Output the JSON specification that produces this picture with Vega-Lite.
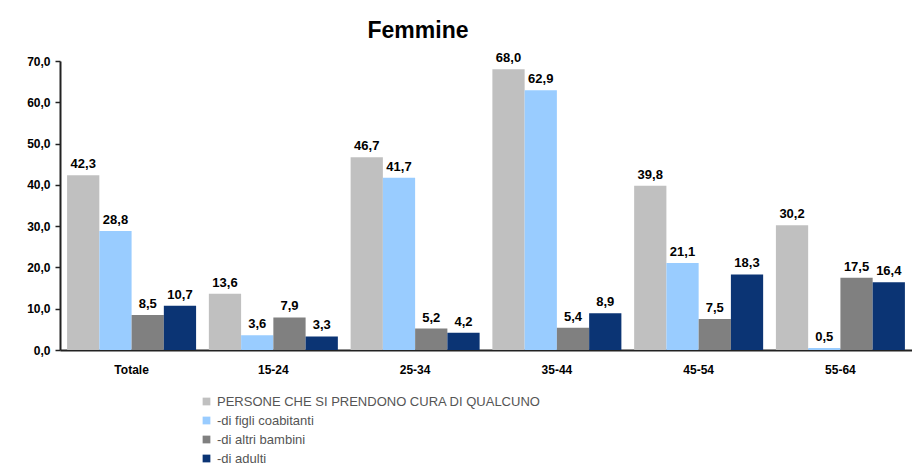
{
  "$schema": "https://vega.github.io/schema/vega-lite/v6.json",
  "width": 852,
  "height": 289,
  "autosize": "none",
  "padding": {"left": 60, "top": 61, "right": 0, "bottom": 125},
  "background": "white",
  "config": {
    "locale": {"number": {"decimal": ",", "thousands": ".", "grouping": [3], "currency": ["€", ""]}},
    "view": {"stroke": null},
    "font": "Liberation Sans"
  },
  "title": {
    "text": "Femmine",
    "fontSize": 23,
    "fontWeight": "bold",
    "font": "Liberation Sans",
    "color": "#000",
    "dx": -68,
    "offset": 9
  },
  "data": {
    "values": [
      {"eta": "Totale", "serie": "PERSONE CHE SI PRENDONO CURA DI QUALCUNO", "v": 42.3},
      {"eta": "Totale", "serie": "-di figli coabitanti", "v": 28.8},
      {"eta": "Totale", "serie": "-di altri bambini", "v": 8.5},
      {"eta": "Totale", "serie": "-di adulti", "v": 10.7},
      {"eta": "15-24", "serie": "PERSONE CHE SI PRENDONO CURA DI QUALCUNO", "v": 13.6},
      {"eta": "15-24", "serie": "-di figli coabitanti", "v": 3.6},
      {"eta": "15-24", "serie": "-di altri bambini", "v": 7.9},
      {"eta": "15-24", "serie": "-di adulti", "v": 3.3},
      {"eta": "25-34", "serie": "PERSONE CHE SI PRENDONO CURA DI QUALCUNO", "v": 46.7},
      {"eta": "25-34", "serie": "-di figli coabitanti", "v": 41.7},
      {"eta": "25-34", "serie": "-di altri bambini", "v": 5.2},
      {"eta": "25-34", "serie": "-di adulti", "v": 4.2},
      {"eta": "35-44", "serie": "PERSONE CHE SI PRENDONO CURA DI QUALCUNO", "v": 68.0},
      {"eta": "35-44", "serie": "-di figli coabitanti", "v": 62.9},
      {"eta": "35-44", "serie": "-di altri bambini", "v": 5.4},
      {"eta": "35-44", "serie": "-di adulti", "v": 8.9},
      {"eta": "45-54", "serie": "PERSONE CHE SI PRENDONO CURA DI QUALCUNO", "v": 39.8},
      {"eta": "45-54", "serie": "-di figli coabitanti", "v": 21.1},
      {"eta": "45-54", "serie": "-di altri bambini", "v": 7.5},
      {"eta": "45-54", "serie": "-di adulti", "v": 18.3},
      {"eta": "55-64", "serie": "PERSONE CHE SI PRENDONO CURA DI QUALCUNO", "v": 30.2},
      {"eta": "55-64", "serie": "-di figli coabitanti", "v": 0.5},
      {"eta": "55-64", "serie": "-di altri bambini", "v": 17.5},
      {"eta": "55-64", "serie": "-di adulti", "v": 16.4}
    ]
  },
  "encoding": {
    "x": {
      "field": "eta", "type": "nominal", "sort": null,
      "scale": {"paddingInner": 0.09, "paddingOuter": 0.05},
      "axis": {
        "title": null, "labelAngle": 0, "ticks": false, "domainColor": "#222", "domainWidth": 2,
        "labelFont": "Liberation Sans", "labelFontWeight": "bold", "labelFontSize": 12,
        "labelColor": "#000", "labelPadding": 14
      }
    },
    "xOffset": {
      "field": "serie", "type": "nominal", "sort": null,
      "scale": {"domain": ["PERSONE CHE SI PRENDONO CURA DI QUALCUNO", "-di figli coabitanti", "-di altri bambini", "-di adulti"], "paddingInner": 0}
    },
    "y": {
      "field": "v", "type": "quantitative",
      "scale": {"domain": [0, 70], "nice": false},
      "axis": {
        "title": null, "values": [0, 10, 20, 30, 40, 50, 60, 70], "format": ".1f", "grid": false,
        "domainColor": "#222", "domainWidth": 2, "tickColor": "#222", "tickSize": 5, "tickWidth": 1.5,
        "labelFont": "Liberation Sans", "labelFontWeight": "bold", "labelFontSize": 12,
        "labelColor": "#000", "labelPadding": 5
      }
    }
  },
  "layer": [
    {
      "mark": {"type": "bar"},
      "encoding": {
        "color": {
          "field": "serie", "type": "nominal", "sort": null,
          "scale": {
            "domain": ["PERSONE CHE SI PRENDONO CURA DI QUALCUNO", "-di figli coabitanti", "-di altri bambini", "-di adulti"],
            "range": ["#c0c0c0", "#99ccff", "#808080", "#0b3474"]
          },
          "legend": {
            "title": null, "orient": "none", "legendX": 140, "legendY": 334,
            "symbolType": "square", "symbolSize": 60, "symbolStrokeWidth": 0,
            "labelFont": "Liberation Sans", "labelFontSize": 13, "labelColor": "#555",
            "labelLimit": 600, "rowPadding": 5, "labelOffset": 4
          }
        }
      }
    },
    {
      "mark": {"type": "text", "dy": -11, "fontWeight": "bold", "font": "Liberation Sans", "fontSize": 13, "color": "#000"},
      "encoding": {
        "text": {"field": "v", "type": "quantitative", "format": ".1f"}
      }
    }
  ]
}
